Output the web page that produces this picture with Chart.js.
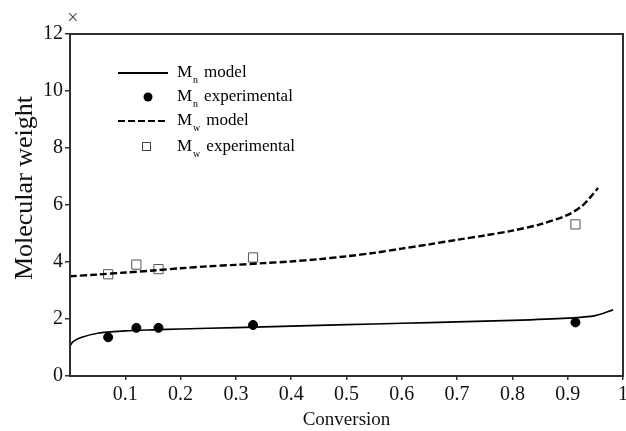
<!DOCTYPE html>
<html>
<head>
<meta charset="utf-8">
<script src="https://cdn.jsdelivr.net/npm/chart.js@4"></script>
<style>
  html, body { margin: 0; padding: 0; background: #fff; }
  #wrap { width: 626px; height: 431px; }
</style>
</head>
<body>
<div id="wrap"><canvas id="myChart"></canvas></div>
<script>
// model curves (conversion -> molecular weight)
const mnModelX = [0, 0.005, 0.02, 0.05, 0.1, 0.15, 0.2, 0.3, 0.4, 0.5, 0.6, 0.7, 0.8, 0.9, 0.95, 0.982];
const mnModelY = [1.05, 1.2, 1.35, 1.5, 1.58, 1.62, 1.65, 1.7, 1.75, 1.8, 1.85, 1.9, 1.95, 2.03, 2.12, 2.32];
const mwModelX = [0, 0.05, 0.1, 0.15, 0.2, 0.25, 0.3, 0.35, 0.4, 0.45, 0.5, 0.55, 0.6, 0.65, 0.7, 0.75, 0.8, 0.85, 0.9, 0.925, 0.94, 0.955];
const mwModelY = [3.5, 3.56, 3.63, 3.7, 3.78, 3.85, 3.9, 3.96, 4.02, 4.1, 4.2, 4.32, 4.47, 4.62, 4.78, 4.93, 5.1, 5.32, 5.65, 5.95, 6.25, 6.6];

// experimental points
const expX = [0.069, 0.12, 0.16, 0.331, 0.914];
const mnExpY = [1.36, 1.69, 1.69, 1.79, 1.88];
const mwExpY = [3.57, 3.91, 3.75, 4.16, 5.32];

const xTicks = [0.1, 0.2, 0.3, 0.4, 0.5, 0.6, 0.7, 0.8, 0.9, 1];
const yTicks = [0, 2, 4, 6, 8, 10, 12];

const axisColor = '#2b342b';
const serif = "'Liberation Serif', 'DejaVu Serif', serif";

function pts(xs, ys) {
    return xs.map((x, i) => ({ x: x, y: ys[i] }));
}

// legend with subscripts, frame and y title drawn by hand
const legendPlugin = {
    id: 'customLegend',
    afterDraw(chart) {
        const c = chart.ctx;
        c.save();
        c.fillStyle = '#000';
        c.strokeStyle = '#000';
        const items = [
            { y: 73, sub: 'n', rest: 'model', kind: 'line' },
            { y: 97, sub: 'n', rest: 'experimental', kind: 'dot' },
            { y: 121, sub: 'w', rest: 'model', kind: 'dash' },
            { y: 147, sub: 'w', rest: 'experimental', kind: 'box' }
        ];
        items.forEach(it => {
            if (it.kind === 'line' || it.kind === 'dash') {
                c.lineWidth = 2;
                c.setLineDash(it.kind === 'dash' ? [7, 3] : []);
                c.beginPath();
                c.moveTo(118, it.y);
                c.lineTo(168, it.y);
                c.stroke();
                c.setLineDash([]);
            } else if (it.kind === 'dot') {
                c.beginPath();
                c.arc(148, it.y, 4.5, 0, Math.PI * 2);
                c.fill();
            } else {
                c.lineWidth = 1;
                c.strokeStyle = '#444';
                c.strokeRect(142.5, it.y - 4.5, 8, 8);
                c.strokeStyle = '#000';
            }
            c.textBaseline = 'middle';
            c.font = '17px ' + serif;
            c.fillText('M', 177, it.y);
            const w = c.measureText('M').width;
            c.font = '10px ' + serif;
            c.fillText(it.sub, 178 + w, it.y + 7);
            const ws = c.measureText(it.sub).width;
            c.font = '17px ' + serif;
            c.fillText(it.rest, 178 + w + ws + 6, it.y);
        });
        // frame around the plot
        const a = chart.chartArea;
        c.strokeStyle = axisColor;
        c.lineWidth = 2;
        c.strokeRect(a.left, a.top, a.right - a.left, a.bottom - a.top);
        // multiplier mark above the y axis
        c.fillStyle = '#444';
        c.font = '20px ' + serif;
        c.textAlign = 'center';
        c.textBaseline = 'middle';
        c.fillText('\u00d7', 73, 19);
        // y axis title
        c.fillStyle = '#111';
        c.font = '26px ' + serif;
        c.translate(32, 188);
        c.rotate(-Math.PI / 2);
        c.textBaseline = 'alphabetic';
        c.fillText('Molecular weight', 0, 0);
        c.restore();
    }
};

const ctx = document.getElementById('myChart').getContext('2d');
const myChart = new Chart(ctx, {
    type: 'scatter',
    data: {
        datasets: [
            {
                label: 'Mn model',
                data: pts(mnModelX, mnModelY),
                showLine: true,
                borderColor: '#000',
                borderWidth: 1.7,
                pointRadius: 0,
                tension: 0.3
            },
            {
                label: 'Mn experimental',
                data: pts(expX, mnExpY),
                backgroundColor: '#000',
                borderColor: '#000',
                pointRadius: 4.5,
                pointStyle: 'circle'
            },
            {
                label: 'Mw model',
                data: pts(mwModelX, mwModelY),
                showLine: true,
                borderColor: '#000',
                borderWidth: 2.4,
                borderDash: [7, 3],
                pointRadius: 0,
                tension: 0.3
            },
            {
                label: 'Mw experimental',
                data: pts(expX, mwExpY),
                backgroundColor: '#fff',
                borderColor: '#555',
                borderWidth: 1,
                pointRadius: 6.5,
                pointStyle: 'rect'
            }
        ]
    },
    options: {
        responsive: true,
        maintainAspectRatio: false,
        animation: false,
        layout: { autoPadding: false, padding: { top: 34, right: 3, left: 0, bottom: 0 } },
        plugins: {
            legend: { display: false },
            tooltip: { enabled: false }
        },
        scales: {
            x: {
                type: 'linear',
                min: 0,
                max: 1,
                afterFit: s => { s.height = 55; s.paddingLeft = 0; s.paddingRight = 0; },
                afterBuildTicks: s => {
                    s.ticks = xTicks.map(v => ({ value: v }));
                },
                border: { display: false },
                grid: { drawOnChartArea: false, drawTicks: true, tickLength: 4, color: axisColor, lineWidth: 1.5 },
                ticks: {
                    color: '#111',
                    font: { family: serif, size: 20 },
                    padding: 3,
                    maxRotation: 0,
                    callback: v => String(v)
                },
                title: {
                    display: true,
                    text: 'Conversion',
                    color: '#111',
                    font: { family: serif, size: 19 },
                    padding: { top: 0, bottom: 0 }
                }
            },
            y: {
                min: 0,
                max: 12,
                afterFit: s => { s.width = 70; },
                afterBuildTicks: s => {
                    s.ticks = yTicks.map(v => ({ value: v }));
                },
                border: { display: false },
                grid: { drawOnChartArea: false, drawTicks: true, tickLength: 5, color: axisColor, lineWidth: 1.5 },
                ticks: {
                    color: '#111',
                    font: { family: serif, size: 20 },
                    padding: 2
                }
            }
        }
    },
    plugins: [legendPlugin]
});
</script>
</body>
</html>
